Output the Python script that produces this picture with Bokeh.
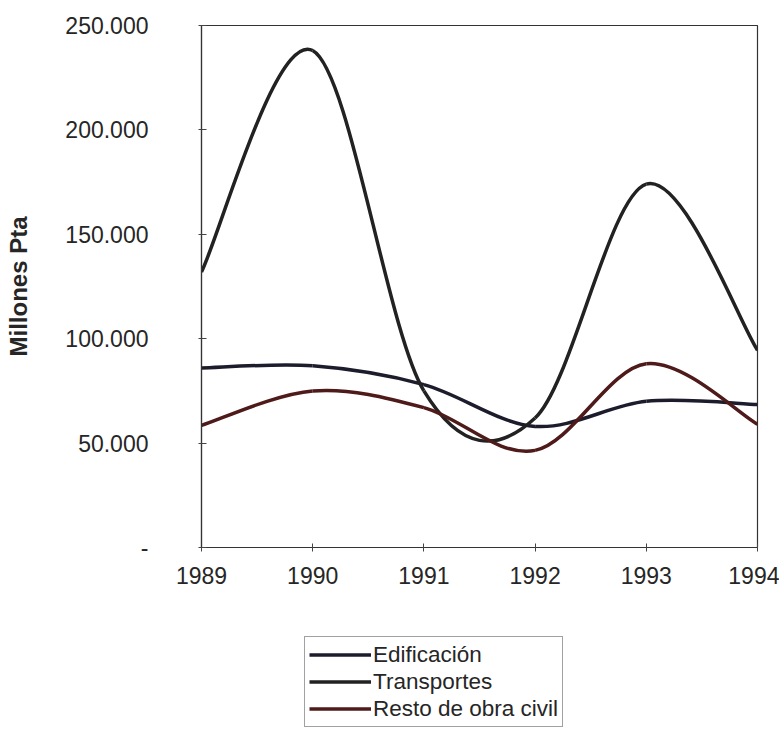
from bokeh.plotting import figure
from bokeh.layouts import column
from bokeh.models import FixedTicker, Legend, LegendItem, ColumnDataSource
from bokeh.embed import file_html
from bokeh.resources import INLINE

years = [1989, 1990, 1991, 1992, 1993, 1994]
edificacion = [86000, 87000, 78000, 58000, 70000, 68500]
transportes = [132000, 238000, 75000, 62000, 174000, 94500]
resto = [58500, 75000, 67000, 46500, 88000, 59000]

y_ticks = [0, 50000, 100000, 150000, 200000, 250000]
y_labels = ["-", "50.000", "100.000", "150.000", "200.000", "250.000"]
x_labels = ["1989", "1990", "1991", "1992", "1993", "1994"]

series_names = ["Edificación", "Transportes", "Resto de obra civil"]
series_colors = ["#1c1c2c", "#222222", "#4e1a1a"]

FONT = "Liberation Sans"
TXT = "#262626"


def smooth_segments(xs, ys):
    """Bezier control points for a smoothed line through the data points."""
    n = len(xs)
    d = dict(x0=[], y0=[], x1=[], y1=[], cx0=[], cy0=[], cx1=[], cy1=[])
    for i in range(n - 1):
        a = i - 1 if i > 0 else i
        b = i + 2 if i + 2 < n else i + 1
        d["x0"].append(xs[i]); d["y0"].append(ys[i])
        d["x1"].append(xs[i + 1]); d["y1"].append(ys[i + 1])
        d["cx0"].append(xs[i] + (xs[i + 1] - xs[a]) / 6.0)
        d["cy0"].append(ys[i] + (ys[i + 1] - ys[a]) / 6.0)
        d["cx1"].append(xs[i + 1] - (xs[b] - xs[i]) / 6.0)
        d["cy1"].append(ys[i + 1] - (ys[b] - ys[i]) / 6.0)
    return d


p = figure(
    frame_width=556, frame_height=522,
    min_border_left=201, min_border_top=25, min_border_right=22, min_border_bottom=60,
    x_range=(1989, 1994), y_range=(0, 250000),
    output_backend="svg", toolbar_location=None,
)
p.background_fill_color = "white"
p.border_fill_color = "white"
p.outline_line_color = "#333333"
p.outline_line_width = 1.2
p.xgrid.visible = False
p.ygrid.visible = False

# Y axis
p.yaxis.ticker = FixedTicker(ticks=y_ticks)
p.yaxis.major_label_overrides = {t: l for t, l in zip(y_ticks, y_labels)}
p.yaxis.minor_tick_line_color = None
p.yaxis.major_tick_in = 5
p.yaxis.major_tick_out = 3
p.yaxis.major_label_standoff = 50
p.yaxis.axis_label = "Millones Pta"
p.yaxis.axis_label_text_font = FONT
p.yaxis.axis_label_text_font_style = "bold"
p.yaxis.axis_label_text_font_size = "24px"
p.yaxis.axis_label_text_color = TXT
p.yaxis.axis_label_standoff = 30

# X axis
p.xaxis.ticker = FixedTicker(ticks=years)
p.xaxis.major_label_overrides = {y: l for y, l in zip(years, x_labels)}
p.xaxis.minor_tick_line_color = None
p.xaxis.major_tick_in = 4
p.xaxis.major_tick_out = 4
p.xaxis.major_label_standoff = 15

for ax in (p.xaxis, p.yaxis):
    ax.axis_line_color = "#333333"
    ax.axis_line_width = 1.2
    ax.major_tick_line_color = "#444444"
    ax.major_label_text_font = FONT
    ax.major_label_text_font_size = "23px"
    ax.major_label_text_color = TXT

# Legend holder below the chart
q = figure(
    width=779, height=129,
    min_border_left=0, min_border_top=0, min_border_right=0, min_border_bottom=0,
    x_range=(0, 1), y_range=(0, 1),
    x_axis_type=None, y_axis_type=None,
    output_backend="svg", toolbar_location=None,
)
q.outline_line_color = None
q.xgrid.visible = False
q.ygrid.visible = False
q.background_fill_color = "white"
q.border_fill_color = "white"

items = []
for name, ys, col in zip(series_names, [edificacion, transportes, resto], series_colors):
    src = ColumnDataSource(smooth_segments(years, ys))
    kw = dict(x0="x0", y0="y0", x1="x1", y1="y1", cx0="cx0", cy0="cy0",
              cx1="cx1", cy1="cy1", source=src, line_color=col, line_width=3.5)
    p.bezier(**kw)
    r2 = q.bezier(**kw)
    r2.visible = False
    items.append(LegendItem(label=name, renderers=[r2]))

legend = Legend(
    items=items,
    location=(103, 9),
    orientation="vertical",
    label_text_font=FONT,
    label_text_font_size="22.5px",
    label_text_color=TXT,
    glyph_width=62, glyph_height=27, label_height=27,
    label_standoff=2, spacing=0, padding=4, margin=0,
    border_line_color="#444444", border_line_width=1,
    background_fill_color="white", background_fill_alpha=1.0,
)
q.add_layout(legend, "center")

layout = column(p, q, spacing=0)
open("out.html", "w").write(file_html(layout, INLINE))
